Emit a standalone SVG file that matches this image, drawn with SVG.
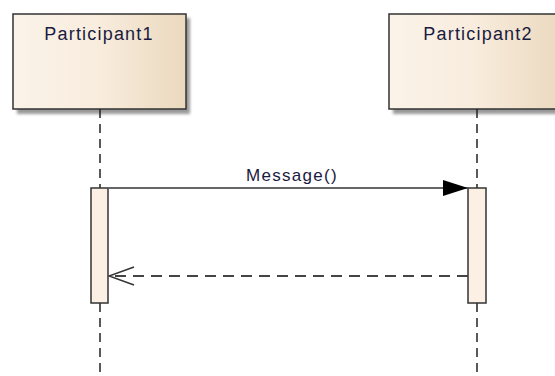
<svg xmlns="http://www.w3.org/2000/svg" width="555" height="376" viewBox="0 0 555 376">
<defs>
<linearGradient id="g" x1="0" y1="0" x2="1" y2="0">
<stop offset="0" stop-color="#fbf3e9"/>
<stop offset="0.5" stop-color="#f8ecdd"/>
<stop offset="1" stop-color="#ebd9be"/>
</linearGradient>
<filter id="sh" x="-10%" y="-10%" width="130%" height="130%">
<feGaussianBlur stdDeviation="1.5"/>
</filter>
<marker id="tri" markerWidth="26" markerHeight="18" refX="25" refY="9" orient="auto" markerUnits="userSpaceOnUse">
<path d="M0,1 L25,9 L0,17 Z" fill="#000"/>
</marker>
<marker id="open" markerWidth="28" markerHeight="22" refX="26" refY="11" orient="auto" markerUnits="userSpaceOnUse">
<path d="M1,2 L26,11 L1,20" fill="none" stroke="#333" stroke-width="1.5"/>
</marker>
</defs>
<style>
.box{fill:url(#g);stroke:#333;stroke-width:1.5}
.shadow{fill:#999;filter:url(#sh)}
.life{stroke:#222;stroke-width:1.5;stroke-dasharray:9,6;fill:none}
.act{fill:#fbf0e3;stroke:#333;stroke-width:1.5}
.lbl{font-family:"Liberation Sans",Arial,sans-serif;font-size:18px;letter-spacing:1.2px;fill:#1a1a40}
.msg{stroke:#666;stroke-width:2;fill:none}
.ret{stroke:#444;stroke-width:2;stroke-dasharray:11,7;fill:none}
</style>
<g id="participant1">
<rect class="shadow" x="17" y="18" width="173" height="96"/>
<rect class="box" x="13" y="14" width="173" height="95"/>
<text class="lbl" x="99" y="40" text-anchor="middle">Participant1</text>
<line class="life" x1="100" y1="109" x2="100" y2="188"/>
<line class="life" x1="100" y1="303" x2="100" y2="376"/>
<rect class="act" x="91" y="188" width="17" height="115"/>
</g>
<g id="participant2">
<rect class="shadow" x="393" y="18" width="173" height="96"/>
<rect class="box" x="389" y="14" width="173" height="95"/>
<text class="lbl" x="478" y="40" text-anchor="middle">Participant2</text>
<line class="life" x1="477" y1="109" x2="477" y2="188"/>
<line class="life" x1="477" y1="303" x2="477" y2="376"/>
<rect class="act" x="468" y="188" width="18" height="115"/>
</g>
<g id="connectors">
<line class="msg" x1="108" y1="188" x2="468" y2="188" marker-end="url(#tri)"/>
<text class="lbl" x="292" y="181" text-anchor="middle" style="font-size:17px;letter-spacing:1.3px">Message()</text>
<line class="ret" x1="468" y1="276" x2="109" y2="276" marker-end="url(#open)"/>
</g>
</svg>
